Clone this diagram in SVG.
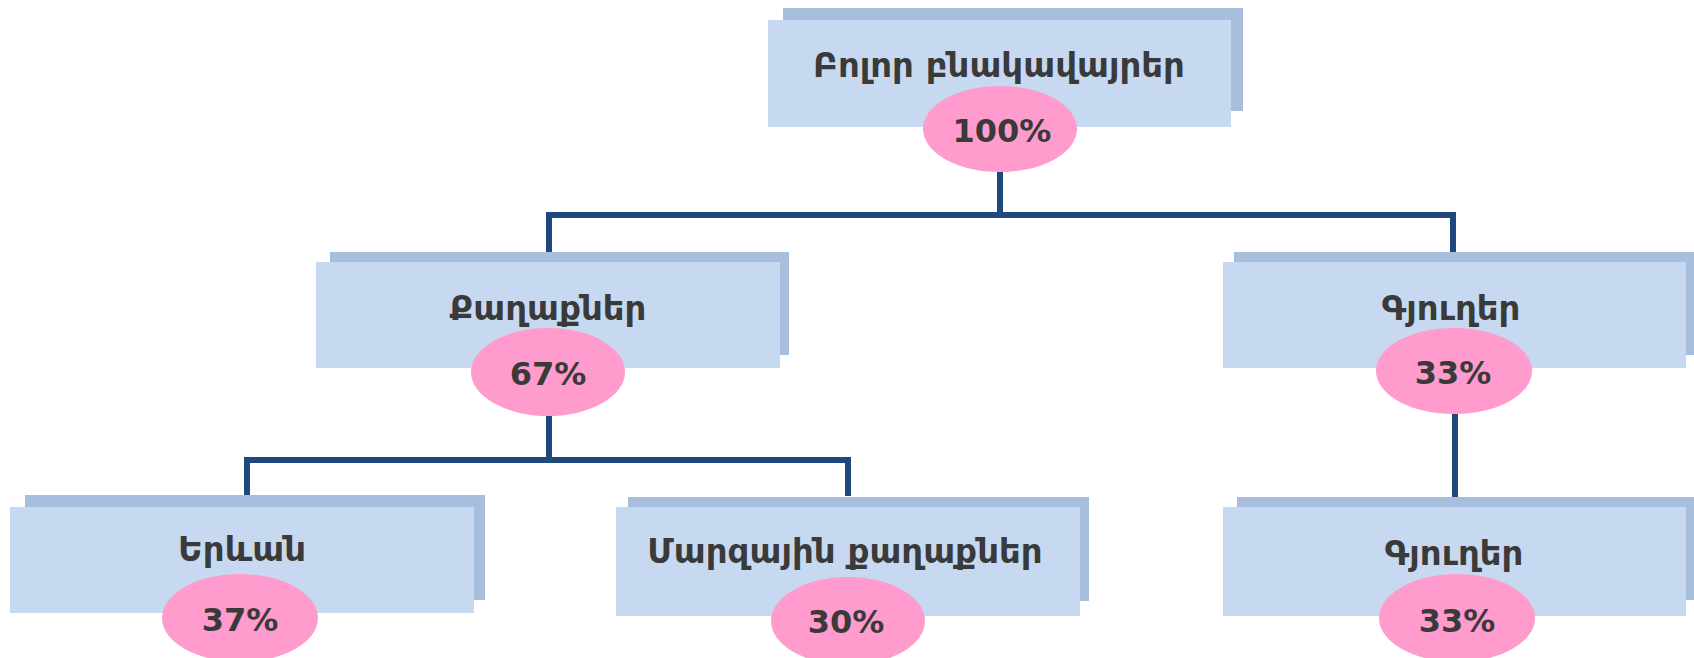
<svg xmlns="http://www.w3.org/2000/svg" width="1694" height="658" viewBox="0 0 1694 658">
<style>
.sh{fill:#A7BFDD}
.fr{fill:#C6D9F0}
.el{fill:#FF9BCD}
.lb{font-family:"DejaVu Sans","Noto Sans",sans-serif;font-weight:bold;font-size:34px;fill:#3A3A3A;text-anchor:middle}
.pc{font-family:"DejaVu Sans","Liberation Sans",sans-serif;font-weight:bold;font-size:32px;fill:#3A3A3A;text-anchor:middle}
.cn{fill:none;stroke:#1F497D;stroke-width:6;stroke-linejoin:miter}
</style>
<rect width="1694" height="658" fill="#FFFFFF"/>
<g id="connectors">
<path class="cn" d="M1000 172 V215 M549 253 V215 H1453 V253"/>
<path class="cn" d="M549 415 V460 M247 496 V460 H848 V496"/>
<path class="cn" d="M1455 414 V497"/>
</g>
<g id="node-all">
<rect class="sh" x="783" y="8" width="460" height="103"/>
<rect class="fr" x="768" y="20" width="463" height="107"/>
<ellipse class="el" cx="1000" cy="129" rx="77" ry="43"/>
<text class="lb" x="999" y="77">Բոլոր բնակավայրեր</text>
<text class="pc" x="1002" y="142">100%</text>
</g>
<g id="node-cities">
<rect class="sh" x="330" y="252" width="459" height="103"/>
<rect class="fr" x="316" y="262" width="464" height="106"/>
<ellipse class="el" cx="548" cy="372" rx="77" ry="44"/>
<text class="lb" x="548" y="320">Քաղաքներ</text>
<text class="pc" x="548" y="385">67%</text>
</g>
<g id="node-villages">
<rect class="sh" x="1234" y="252" width="460" height="103"/>
<rect class="fr" x="1223" y="262" width="463" height="106"/>
<ellipse class="el" cx="1454" cy="371" rx="78" ry="43"/>
<text class="lb" x="1451" y="320">Գյուղեր</text>
<text class="pc" x="1453" y="384">33%</text>
</g>
<g id="node-yerevan">
<rect class="sh" x="25" y="495" width="460" height="105"/>
<rect class="fr" x="10" y="507" width="464" height="106"/>
<ellipse class="el" cx="240" cy="618" rx="78" ry="44"/>
<text class="lb" x="242" y="561">Երևան</text>
<text class="pc" x="240" y="631">37%</text>
</g>
<g id="node-regional">
<rect class="sh" x="628" y="497" width="461" height="104"/>
<rect class="fr" x="616" y="507" width="464" height="109"/>
<ellipse class="el" cx="848" cy="621" rx="77" ry="44"/>
<text class="lb" x="845" y="563">Մարզային քաղաքներ</text>
<text class="pc" x="846" y="633">30%</text>
</g>
<g id="node-villages2">
<rect class="sh" x="1237" y="497" width="457" height="103"/>
<rect class="fr" x="1223" y="507" width="463" height="109"/>
<ellipse class="el" cx="1457" cy="618" rx="78" ry="44"/>
<text class="lb" x="1454" y="565">Գյուղեր</text>
<text class="pc" x="1457" y="632">33%</text>
</g>
</svg>
